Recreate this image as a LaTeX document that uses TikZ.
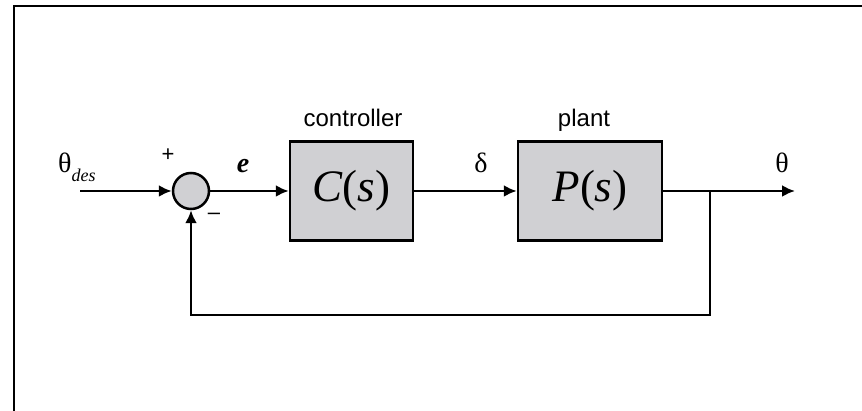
\documentclass[tikz,border=0pt]{standalone}
\usepackage{fontspec}
\setmainfont{Liberation Serif}
\setsansfont{Liberation Sans}
\usepackage{tikz}
\usepackage{xcolor}
\usetikzlibrary{arrows.meta}

\definecolor{boxgray}{RGB}{208,208,211}
\tikzset{
  blockbox/.style = {draw, line width=2.5pt, fill=boxgray, minimum height=99pt, inner sep=0pt},
  sumnode/.style = {draw, circle, line width=2.5pt, fill=boxgray, minimum size=36pt, inner sep=0pt},
  signal/.style = {line width=2.5pt, ->, >={Latex[length=13pt,width=12pt]}},
  blocklabel/.style = {font=\sffamily\fontsize{24}{24}\selectfont, anchor=base},
  siglabel/.style = {font=\fontsize{28}{28}\selectfont, anchor=base},
  signlabel/.style = {font=\sffamily\fontsize{22}{22}\selectfont}
}

\begin{document}
\begin{tikzpicture}[x=1pt,y=-1pt]
  \useasboundingbox (0,0) rectangle (862,411);
  % frame
  \draw[line width=2pt] (14,411) -- (14,6) -- (862,6);

  \node[sumnode] (sum) at (191,191) {};
  \node[blockbox, minimum width=123pt] (ctrl) at (351.5,191) {\fontsize{45}{45}\selectfont\textit{C}(\textit{s})};
  \node[blockbox, minimum width=144pt] (plant) at (590,191) {\fontsize{45}{45}\selectfont\textit{P}(\textit{s})};

  \coordinate (in) at (80,191);
  \coordinate (out) at (795,191);
  \coordinate (branch) at (710,191);
  \coordinate (fb) at (710,315);

  \draw[signal] (in) -- (sum);
  \draw[signal] (sum) -- (ctrl);
  \draw[signal] (ctrl) -- (plant);
  \draw[signal] (plant) -- (out);
  \draw[signal] (branch) -- (fb) -| (sum);

  % labels
  \node[blocklabel] (lblctrl) at (353,127) {controller};
  \node[blocklabel] (lblplant) at (584,127) {plant};
  \node[siglabel, anchor=base west, inner sep=0pt] (lbltheta) at (58,173) {θ\raisebox{-9pt}{\fontsize{18}{18}\selectfont\textit{des}}};
  \node[siglabel] (lble) at (243,173) {\textit{\textbf{e}}};
  \node[siglabel] (lbldelta) at (481,173) {δ};
  \node[siglabel] (lblout) at (782,173) {θ};
  \node[signlabel] (lblplus) at (168,155) {+};
  \node[signlabel] (lblminus) at (214,216) {–};
\end{tikzpicture}
\end{document}
